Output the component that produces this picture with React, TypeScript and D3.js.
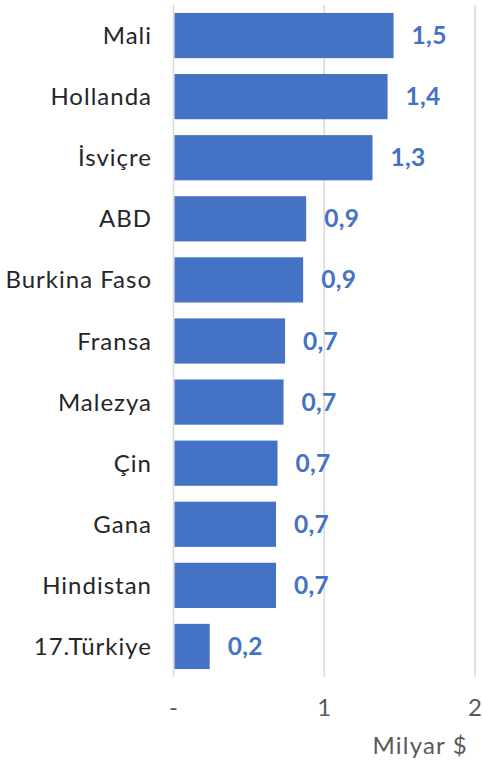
import React, { useEffect, useRef } from 'react';
import * as d3 from 'd3';

const countries = ['Mali', 'Hollanda', 'İsviçre', 'ABD', 'Burkina Faso', 'Fransa', 'Malezya', 'Çin', 'Gana', 'Hindistan', '17.Türkiye'];
const values = [1.46, 1.42, 1.32, 0.88, 0.86, 0.74, 0.73, 0.69, 0.68, 0.68, 0.24];
const xTicks = [0, 1, 2];
const axisTitle = 'Milyar $';

const App = () => {
  const ref = useRef<SVGSVGElement>(null);

  useEffect(() => {
    const width = 483,
      height = 765,
      margin = { top: 5, left: 173.5, right: 8, bottom: 88 };

    const svg = d3.select(ref.current);
    svg.selectAll('*').remove();
    svg.attr('width', width).attr('height', height).attr('font-family', 'Lato, sans-serif');

    const data = countries.map((c, i) => ({ country: c, value: values[i] }));

    const x = d3.scaleLinear().domain([0, 2]).range([margin.left, 475]);
    const y = d3.scaleBand()
      .domain(countries)
      .range([margin.top, height - margin.bottom])
      .paddingInner(0.26)
      .paddingOuter(0.13);

    // grid
    svg.append('g')
      .selectAll('line')
      .data(xTicks)
      .enter().append('line')
      .attr('x1', d => x(d))
      .attr('x2', d => x(d))
      .attr('y1', margin.top)
      .attr('y2', height - margin.bottom)
      .attr('stroke', '#d9d9d9')
      .attr('stroke-width', 1.5);

    // bars
    svg.append('g')
      .selectAll('rect')
      .data(data)
      .enter().append('rect')
      .attr('x', x(0) + 1)
      .attr('y', d => y(d.country)!)
      .attr('width', d => x(d.value) - x(0) - 1)
      .attr('height', y.bandwidth())
      .attr('fill', '#4472c4');

    const fmt = d3.format('.1f');

    // value labels
    svg.append('g')
      .selectAll('text')
      .data(data)
      .enter().append('text')
      .attr('x', d => x(d.value) + 18)
      .attr('y', d => y(d.country)! + y.bandwidth() / 2 + 8.5)
      .attr('fill', '#4472c4')
      .attr('font-weight', 'bold')
      .attr('font-size', 24.5)
      .attr('letter-spacing', 0.3)
      .text(d => fmt(d.value).replace('.', ','));

    // category labels
    svg.append('g')
      .selectAll('text')
      .data(data)
      .enter().append('text')
      .attr('x', 152)
      .attr('y', d => y(d.country)! + y.bandwidth() / 2 + 8.5)
      .attr('text-anchor', 'end')
      .attr('fill', '#262626')
      .attr('font-size', 24)
      .attr('letter-spacing', 1)
      .text(d => d.country);

    // x tick labels
    svg.append('g')
      .selectAll('text')
      .data(xTicks)
      .enter().append('text')
      .attr('x', d => x(d))
      .attr('y', 716)
      .attr('text-anchor', 'middle')
      .attr('fill', '#595959')
      .attr('font-size', 24)
      .text(d => (d === 0 ? '-' : String(d)));

    svg.append('text')
      .attr('x', 468)
      .attr('y', 754)
      .attr('text-anchor', 'end')
      .attr('fill', '#595959')
      .attr('font-size', 24)
      .attr('letter-spacing', 1.2)
      .text(axisTitle);
  }, []);

  return (
    <svg ref={ref} style={{ position: 'absolute', left: 0, top: 0, display: 'block' }} />
  );
};

export default App;
